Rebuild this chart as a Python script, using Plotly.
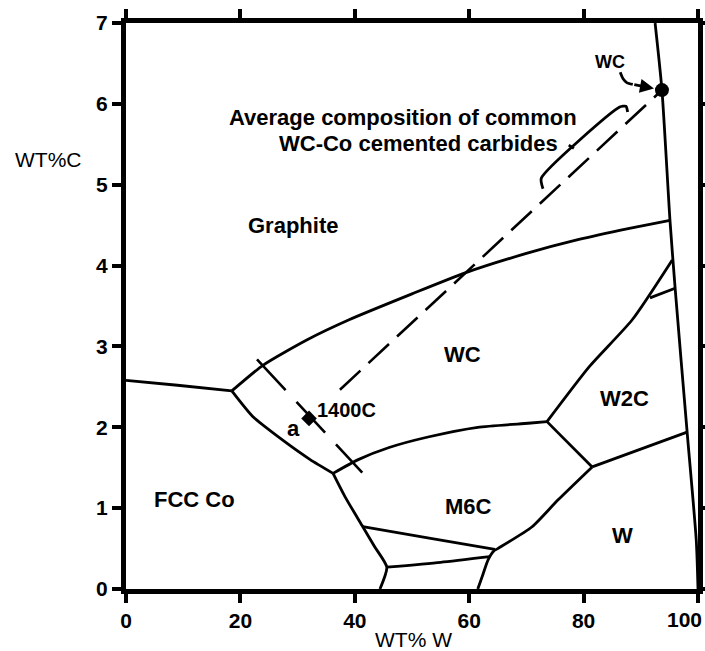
import plotly.graph_objects as go

# ---- phase boundaries (x = wt% W, y = wt% C) ----
fcc_graphite_x = [0, 9, 18.5]
fcc_graphite_y = [2.58, 2.52, 2.45]
graphite_wc_x = [18.5, 24, 31.6, 39, 50, 59.3, 70, 79, 88, 95.1]
graphite_wc_y = [2.45, 2.77, 3.08, 3.33, 3.65, 3.91, 4.15, 4.32, 4.46, 4.56]
fcc_wc_x = [18.5, 22.2, 27.4, 32.2, 36.2]
fcc_wc_y = [2.45, 2.13, 1.84, 1.60, 1.43]
wc_m6c_x = [36.2, 40.6, 46, 52.8, 61.5, 70.3, 73.6]
wc_m6c_y = [1.43, 1.60, 1.75, 1.88, 2.00, 2.05, 2.07]
wc_w2c_x = [73.6, 81, 88.5, 95.5]
wc_w2c_y = [2.07, 2.75, 3.33, 4.07]
w2c_inner_x = [91.6, 96.0]
w2c_inner_y = [3.60, 3.72]
w2c_m6c_x = [73.6, 81.5]
w2c_m6c_y = [2.07, 1.51]
w2c_w_x = [81.5, 98.1]
w2c_w_y = [1.51, 1.94]
m6c_w_x = [81.5, 75.5, 71, 65, 64.3, 63.3, 62.4, 61.5]
m6c_w_y = [1.51, 1.10, 0.77, 0.50, 0.47, 0.36, 0.18, 0.0]
m6c_left_x = [36.2, 38.3, 41.4, 43.5, 45.6, 44.4]
m6c_left_y = [1.43, 1.14, 0.77, 0.52, 0.27, 0.0]
m6c_bottom_x = [41.4, 53, 64.5]
m6c_bottom_y = [0.77, 0.63, 0.49]
lower_x = [45.6, 55, 63.6]
lower_y = [0.27, 0.33, 0.40]
right_x = [92.5, 93.7, 95.1, 96.0, 98.1, 99.7, 100]
right_y = [7.0, 6.17, 4.56, 3.72, 1.94, 0.60, 0.0]

# tie line and composition line
tie_x = [22.9, 41.3]
tie_y = [2.84, 1.44]
avg_x = [37.4, 93.7]
avg_y = [2.465, 6.17]
bracket_x = [72.9, 72.6, 86.3, 87.4, 87.7]
bracket_y = [4.95, 5.08, 5.96, 5.97, 5.90]
bracket_tick_x = [78.3, 77.4]
bracket_tick_y = [5.45, 5.49]
arrow_curve_x = [86.4, 86.9, 87.6, 88.6]
arrow_curve_y = [6.39, 6.31, 6.26, 6.24]

point_a = (32.0, 2.11)
point_wc = (93.7, 6.17)

x_ticks = [0, 20, 40, 60, 80, 100]
x_tick_text = ["0", "20", "40", "60", "80", ""]   # "100" drawn right-aligned below
last_x_tick_label = "100"
y_ticks = [0, 1, 2, 3, 4, 5, 6, 7]

FONT = "Arial, Liberation Sans, sans-serif"
fig = go.Figure()

solid = [
    (fcc_graphite_x, fcc_graphite_y), (graphite_wc_x, graphite_wc_y),
    (fcc_wc_x, fcc_wc_y), (wc_m6c_x, wc_m6c_y), (wc_w2c_x, wc_w2c_y),
    (w2c_inner_x, w2c_inner_y), (w2c_m6c_x, w2c_m6c_y), (w2c_w_x, w2c_w_y),
    (m6c_w_x, m6c_w_y), (m6c_left_x, m6c_left_y), (m6c_bottom_x, m6c_bottom_y),
    (lower_x, lower_y), (right_x, right_y),
    (bracket_x, bracket_y), (bracket_tick_x, bracket_tick_y),
    (arrow_curve_x, arrow_curve_y),
]
for xs, ys in solid:
    fig.add_trace(go.Scatter(x=xs, y=ys, mode="lines",
                             line=dict(color="black", width=2.8, shape="spline", smoothing=0.6),
                             showlegend=False, hoverinfo="skip"))

fig.add_trace(go.Scatter(x=tie_x, y=tie_y, mode="lines",
                         line=dict(color="black", width=2.6, dash="42px,16px"),
                         showlegend=False, hoverinfo="skip"))
fig.add_trace(go.Scatter(x=avg_x, y=avg_y, mode="lines",
                         line=dict(color="black", width=2.6, dash="28px,11px"),
                         showlegend=False, hoverinfo="skip"))
fig.add_trace(go.Scatter(x=[point_a[0]], y=[point_a[1]], mode="markers",
                         marker=dict(color="black", size=12, symbol="diamond"),
                         showlegend=False, hoverinfo="skip"))
fig.add_trace(go.Scatter(x=[point_wc[0]], y=[point_wc[1]], mode="markers",
                         marker=dict(color="black", size=14, symbol="circle"),
                         showlegend=False, hoverinfo="skip"))

def label(text, x, y, size=22, weight="bold"):
    fig.add_annotation(x=x, y=y, xref="x", yref="y", text=text, showarrow=False,
                       font=dict(family=FONT, size=size, color="black", weight=weight),
                       xanchor="center", yanchor="middle")

label("Average composition of common", 48.5, 5.83)
label("WC-Co cemented carbides", 51.2, 5.51)
label("WC", 84.6, 6.52, size=18)
label("Graphite", 29.2, 4.49)
label("WC", 58.9, 2.90)
label("W2C", 87.2, 2.36)
label("M6C", 59.8, 1.02)
label("W", 86.8, 0.66)
label("FCC Co", 11.9, 1.11)
label("1400C", 38.6, 2.22, size=20)
label("a", 29.2, 1.98)

# arrow head to WC point
fig.add_annotation(x=92.3, y=6.19, ax=88.6, ay=6.24, xref="x", yref="y",
                   axref="x", ayref="y", text="", showarrow=True,
                   arrowhead=2, arrowsize=1.0, arrowwidth=2.8, arrowcolor="black")

W, H = 705, 651
L, R, T, B = 126, 7, 23, 62
PW, PH = W - L - R, H - T - B

# axis titles (placed by pixel position, converted to paper fractions)
fig.add_annotation(x=(48 - L) / PW, y=(H - 159 - B) / PH, xref="paper", yref="paper",
                   text="WT%C", showarrow=False, xanchor="center", yanchor="middle",
                   font=dict(family=FONT, size=21, color="black"))
fig.add_annotation(x=(413 - L) / PW, y=(H - 639 - B) / PH, xref="paper", yref="paper",
                   text="WT% W", showarrow=False, xanchor="center", yanchor="middle",
                   font=dict(family=FONT, size=21, color="black"))
# last x tick label, right-aligned so it stays inside the page
fig.add_annotation(x=x_ticks[-1], y=(H - 619 - B) / PH, xref="x", yref="paper",
                   text=last_x_tick_label, showarrow=False, xanchor="right", yanchor="middle",
                   xshift=6,
                   font=dict(family=FONT, size=21, color="black", weight="bold"))

axis_common = dict(showline=True, linewidth=5, linecolor="black", mirror="ticks",
                   ticks="outside", ticklen=9, tickwidth=4, tickcolor="black",
                   showgrid=False, zeroline=False, automargin=False,
                   ticklabeloverflow="allow",
                   tickfont=dict(family=FONT, size=21, color="black", weight="bold"))
fig.update_xaxes(range=[0, 100], tickvals=x_ticks, ticktext=x_tick_text, **axis_common)
fig.update_yaxes(range=[0, 7], tickvals=y_ticks, ticktext=[str(v) for v in y_ticks], **axis_common)

fig.update_layout(width=W, height=H, template="none",
                  margin=dict(l=L, r=R, t=T, b=B, pad=0),
                  paper_bgcolor="white", plot_bgcolor="white", showlegend=False)

fig.write_html("out.html")
